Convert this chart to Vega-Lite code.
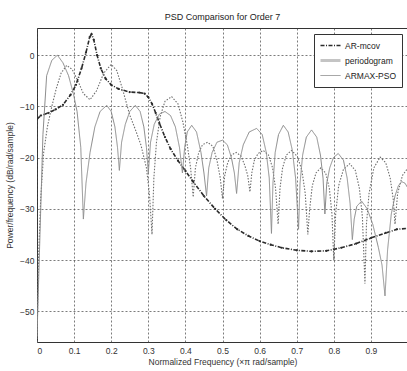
{
  "$schema": "https://vega.github.io/schema/vega-lite/v6.json",
  "width": 371,
  "height": 314,
  "autosize": {"type": "none"},
  "padding": {"left": 37, "top": 28, "right": 0, "bottom": 29},
  "background": "white",
  "title": {"text": "PSD Comparison for Order 7", "fontSize": 9, "fontWeight": "normal", "font": "Liberation Sans Narrow, Liberation Sans, Arial, sans-serif", "color": "#222", "offset": 6},
  "config": {
    "view": {"stroke": "#333", "strokeWidth": 1},
    "axis": {"labelFont": "Liberation Sans Narrow, Liberation Sans, Arial, sans-serif", "labelFontSize": 8.5, "labelColor": "#333", "titleFont": "Liberation Sans Narrow, Liberation Sans, Arial, sans-serif", "titleFontSize": 8.5, "titleFontWeight": "normal", "titleColor": "#333", "grid": true, "gridColor": "#444", "gridDash": [2, 2], "gridWidth": 0.7, "domain": false, "ticks": false},
    "legend": {"orient": "top-right", "offset": 6, "title": null, "fillColor": "white", "strokeColor": "#333", "padding": 5, "labelFont": "Liberation Sans Narrow, Liberation Sans, Arial, sans-serif", "labelFontSize": 8.5, "labelColor": "#222", "symbolType": "stroke", "symbolSize": 400, "clipHeight": 13, "rowPadding": 2, "labelOffset": 3}
  },
  "data": {"values": [
    {"s":"AR-mcov","f":0,"p":-12.5},{"s":"AR-mcov","f":0.01,"p":-11.8},{"s":"AR-mcov","f":0.03,"p":-11.3},{"s":"AR-mcov","f":0.05,"p":-10.6},{"s":"AR-mcov","f":0.07,"p":-9.7},{"s":"AR-mcov","f":0.09,"p":-7.8},{"s":"AR-mcov","f":0.105,"p":-5.8},{"s":"AR-mcov","f":0.12,"p":-2.6},{"s":"AR-mcov","f":0.132,"p":0.5},{"s":"AR-mcov","f":0.142,"p":3.5},{"s":"AR-mcov","f":0.147,"p":4.1},{"s":"AR-mcov","f":0.153,"p":3},{"s":"AR-mcov","f":0.162,"p":0},{"s":"AR-mcov","f":0.172,"p":-2.6},{"s":"AR-mcov","f":0.185,"p":-4.6},{"s":"AR-mcov","f":0.2,"p":-5.8},{"s":"AR-mcov","f":0.22,"p":-6.6},{"s":"AR-mcov","f":0.25,"p":-7.2},{"s":"AR-mcov","f":0.275,"p":-7.3},{"s":"AR-mcov","f":0.29,"p":-7.5},{"s":"AR-mcov","f":0.3,"p":-8.2},{"s":"AR-mcov","f":0.31,"p":-9.5},{"s":"AR-mcov","f":0.32,"p":-11.3},{"s":"AR-mcov","f":0.33,"p":-13.3},{"s":"AR-mcov","f":0.345,"p":-16},{"s":"AR-mcov","f":0.36,"p":-18.3},{"s":"AR-mcov","f":0.38,"p":-20.6},{"s":"AR-mcov","f":0.4,"p":-22.6},{"s":"AR-mcov","f":0.42,"p":-24.6},{"s":"AR-mcov","f":0.45,"p":-27.5},{"s":"AR-mcov","f":0.48,"p":-30},{"s":"AR-mcov","f":0.51,"p":-32.2},{"s":"AR-mcov","f":0.54,"p":-34},{"s":"AR-mcov","f":0.57,"p":-35.3},{"s":"AR-mcov","f":0.6,"p":-36.3},{"s":"AR-mcov","f":0.63,"p":-37},{"s":"AR-mcov","f":0.66,"p":-37.6},{"s":"AR-mcov","f":0.7,"p":-38.1},{"s":"AR-mcov","f":0.74,"p":-38.3},{"s":"AR-mcov","f":0.78,"p":-38.2},{"s":"AR-mcov","f":0.82,"p":-37.6},{"s":"AR-mcov","f":0.86,"p":-36.8},{"s":"AR-mcov","f":0.9,"p":-35.7},{"s":"AR-mcov","f":0.94,"p":-34.7},{"s":"AR-mcov","f":0.97,"p":-34},{"s":"AR-mcov","f":1,"p":-33.8},

    {"s":"ARMAX-PSO","f":0,"p":-55},{"s":"ARMAX-PSO","f":0.008,"p":-35},{"s":"ARMAX-PSO","f":0.016,"p":-15.5},{"s":"ARMAX-PSO","f":0.026,"p":-4},{"s":"ARMAX-PSO","f":0.04,"p":-1},{"s":"ARMAX-PSO","f":0.055,"p":0},{"s":"ARMAX-PSO","f":0.07,"p":-1.5},{"s":"ARMAX-PSO","f":0.085,"p":-4},{"s":"ARMAX-PSO","f":0.098,"p":-7.5},{"s":"ARMAX-PSO","f":0.108,"p":-11},{"s":"ARMAX-PSO","f":0.118,"p":-18},{"s":"ARMAX-PSO","f":0.125,"p":-32},
    {"s":"ARMAX-PSO","f":0.132,"p":-25},{"s":"ARMAX-PSO","f":0.143,"p":-19},{"s":"ARMAX-PSO","f":0.156,"p":-14},{"s":"ARMAX-PSO","f":0.17,"p":-11},{"s":"ARMAX-PSO","f":0.188,"p":-9.8},{"s":"ARMAX-PSO","f":0.2,"p":-11},{"s":"ARMAX-PSO","f":0.21,"p":-14},{"s":"ARMAX-PSO","f":0.217,"p":-18},{"s":"ARMAX-PSO","f":0.222,"p":-22.5},
    {"s":"ARMAX-PSO","f":0.228,"p":-17},{"s":"ARMAX-PSO","f":0.238,"p":-13.5},{"s":"ARMAX-PSO","f":0.25,"p":-11},{"s":"ARMAX-PSO","f":0.265,"p":-9.8},{"s":"ARMAX-PSO","f":0.278,"p":-11},{"s":"ARMAX-PSO","f":0.288,"p":-14},{"s":"ARMAX-PSO","f":0.295,"p":-18},{"s":"ARMAX-PSO","f":0.3,"p":-23},
    {"s":"ARMAX-PSO","f":0.306,"p":-17},{"s":"ARMAX-PSO","f":0.316,"p":-13.5},{"s":"ARMAX-PSO","f":0.33,"p":-11.5},{"s":"ARMAX-PSO","f":0.345,"p":-11},{"s":"ARMAX-PSO","f":0.36,"p":-11.8},{"s":"ARMAX-PSO","f":0.373,"p":-14},{"s":"ARMAX-PSO","f":0.384,"p":-18},{"s":"ARMAX-PSO","f":0.392,"p":-23},
    {"s":"ARMAX-PSO","f":0.398,"p":-18},{"s":"ARMAX-PSO","f":0.405,"p":-15},{"s":"ARMAX-PSO","f":0.417,"p":-13.7},{"s":"ARMAX-PSO","f":0.43,"p":-15},{"s":"ARMAX-PSO","f":0.442,"p":-19},{"s":"ARMAX-PSO","f":0.45,"p":-23},{"s":"ARMAX-PSO","f":0.457,"p":-27.5},
    {"s":"ARMAX-PSO","f":0.463,"p":-22},{"s":"ARMAX-PSO","f":0.472,"p":-19},{"s":"ARMAX-PSO","f":0.485,"p":-17},{"s":"ARMAX-PSO","f":0.5,"p":-16.6},{"s":"ARMAX-PSO","f":0.513,"p":-17.5},{"s":"ARMAX-PSO","f":0.524,"p":-20},{"s":"ARMAX-PSO","f":0.532,"p":-23},{"s":"ARMAX-PSO","f":0.538,"p":-27},
    {"s":"ARMAX-PSO","f":0.545,"p":-21},{"s":"ARMAX-PSO","f":0.556,"p":-17.5},{"s":"ARMAX-PSO","f":0.572,"p":-15},{"s":"ARMAX-PSO","f":0.592,"p":-14.3},{"s":"ARMAX-PSO","f":0.607,"p":-15.5},{"s":"ARMAX-PSO","f":0.618,"p":-19},{"s":"ARMAX-PSO","f":0.626,"p":-24},{"s":"ARMAX-PSO","f":0.632,"p":-34.8},
    {"s":"ARMAX-PSO","f":0.636,"p":-25},{"s":"ARMAX-PSO","f":0.642,"p":-19},{"s":"ARMAX-PSO","f":0.651,"p":-15.5},{"s":"ARMAX-PSO","f":0.664,"p":-13.7},{"s":"ARMAX-PSO","f":0.677,"p":-15},{"s":"ARMAX-PSO","f":0.688,"p":-18.5},{"s":"ARMAX-PSO","f":0.697,"p":-24},{"s":"ARMAX-PSO","f":0.705,"p":-34},
    {"s":"ARMAX-PSO","f":0.709,"p":-25},{"s":"ARMAX-PSO","f":0.716,"p":-19.5},{"s":"ARMAX-PSO","f":0.726,"p":-16},{"s":"ARMAX-PSO","f":0.74,"p":-14.6},{"s":"ARMAX-PSO","f":0.754,"p":-16},{"s":"ARMAX-PSO","f":0.764,"p":-19.5},{"s":"ARMAX-PSO","f":0.771,"p":-24},{"s":"ARMAX-PSO","f":0.776,"p":-31},
    {"s":"ARMAX-PSO","f":0.781,"p":-25},{"s":"ARMAX-PSO","f":0.789,"p":-22},{"s":"ARMAX-PSO","f":0.799,"p":-20},{"s":"ARMAX-PSO","f":0.812,"p":-19.2},{"s":"ARMAX-PSO","f":0.826,"p":-20.5},{"s":"ARMAX-PSO","f":0.836,"p":-24},{"s":"ARMAX-PSO","f":0.844,"p":-29},{"s":"ARMAX-PSO","f":0.85,"p":-36},
    {"s":"ARMAX-PSO","f":0.855,"p":-32},{"s":"ARMAX-PSO","f":0.862,"p":-29.5},{"s":"ARMAX-PSO","f":0.875,"p":-28.5},{"s":"ARMAX-PSO","f":0.89,"p":-30},{"s":"ARMAX-PSO","f":0.905,"p":-33},{"s":"ARMAX-PSO","f":0.92,"p":-37.5},{"s":"ARMAX-PSO","f":0.93,"p":-41},{"s":"ARMAX-PSO","f":0.938,"p":-47},
    {"s":"ARMAX-PSO","f":0.945,"p":-38},{"s":"ARMAX-PSO","f":0.955,"p":-31},{"s":"ARMAX-PSO","f":0.965,"p":-27.5},{"s":"ARMAX-PSO","f":0.974,"p":-25.5},{"s":"ARMAX-PSO","f":0.983,"p":-24.7},{"s":"ARMAX-PSO","f":0.992,"p":-25},{"s":"ARMAX-PSO","f":1,"p":-26},

    {"s":"periodogram","f":0,"p":-56},{"s":"periodogram","f":0.004,"p":-40},{"s":"periodogram","f":0.01,"p":-28},{"s":"periodogram","f":0.018,"p":-19},{"s":"periodogram","f":0.028,"p":-14},{"s":"periodogram","f":0.04,"p":-10},{"s":"periodogram","f":0.052,"p":-6.5},{"s":"periodogram","f":0.065,"p":-3.5},{"s":"periodogram","f":0.08,"p":-2},{"s":"periodogram","f":0.095,"p":-2.8},{"s":"periodogram","f":0.11,"p":-5},{"s":"periodogram","f":0.125,"p":-7.5},{"s":"periodogram","f":0.143,"p":-8.7},{"s":"periodogram","f":0.16,"p":-7},{"s":"periodogram","f":0.18,"p":-3.5},{"s":"periodogram","f":0.2,"p":-1.8},{"s":"periodogram","f":0.215,"p":-3},{"s":"periodogram","f":0.23,"p":-6.5},{"s":"periodogram","f":0.25,"p":-11.7},{"s":"periodogram","f":0.265,"p":-14.5},{"s":"periodogram","f":0.28,"p":-17.5},{"s":"periodogram","f":0.295,"p":-22},{"s":"periodogram","f":0.303,"p":-27},{"s":"periodogram","f":0.31,"p":-35},
    {"s":"periodogram","f":0.315,"p":-24},{"s":"periodogram","f":0.322,"p":-17},{"s":"periodogram","f":0.332,"p":-12},{"s":"periodogram","f":0.345,"p":-9},{"s":"periodogram","f":0.363,"p":-8.1},{"s":"periodogram","f":0.38,"p":-9.5},{"s":"periodogram","f":0.393,"p":-13},{"s":"periodogram","f":0.405,"p":-17.5},{"s":"periodogram","f":0.414,"p":-22},{"s":"periodogram","f":0.421,"p":-27.7},
    {"s":"periodogram","f":0.427,"p":-22},{"s":"periodogram","f":0.436,"p":-19},{"s":"periodogram","f":0.446,"p":-17.5},{"s":"periodogram","f":0.46,"p":-17},{"s":"periodogram","f":0.474,"p":-17.8},{"s":"periodogram","f":0.485,"p":-20.5},{"s":"periodogram","f":0.494,"p":-24},{"s":"periodogram","f":0.5,"p":-28},
    {"s":"periodogram","f":0.506,"p":-23.5},{"s":"periodogram","f":0.514,"p":-21},{"s":"periodogram","f":0.524,"p":-19.5},{"s":"periodogram","f":0.537,"p":-19},{"s":"periodogram","f":0.55,"p":-19.7},{"s":"periodogram","f":0.56,"p":-21.5},{"s":"periodogram","f":0.568,"p":-23.5},{"s":"periodogram","f":0.574,"p":-26.7},
    {"s":"periodogram","f":0.579,"p":-23},{"s":"periodogram","f":0.586,"p":-20.5},{"s":"periodogram","f":0.596,"p":-19.2},{"s":"periodogram","f":0.61,"p":-18.6},{"s":"periodogram","f":0.624,"p":-19.5},{"s":"periodogram","f":0.635,"p":-22},{"s":"periodogram","f":0.643,"p":-26},{"s":"periodogram","f":0.65,"p":-33},
    {"s":"periodogram","f":0.655,"p":-26},{"s":"periodogram","f":0.662,"p":-22},{"s":"periodogram","f":0.672,"p":-19.5},{"s":"periodogram","f":0.686,"p":-18.6},{"s":"periodogram","f":0.702,"p":-19.8},{"s":"periodogram","f":0.714,"p":-22.5},{"s":"periodogram","f":0.723,"p":-27},{"s":"periodogram","f":0.73,"p":-35},
    {"s":"periodogram","f":0.735,"p":-30},{"s":"periodogram","f":0.742,"p":-25.5},{"s":"periodogram","f":0.752,"p":-23},{"s":"periodogram","f":0.765,"p":-22},{"s":"periodogram","f":0.778,"p":-23},{"s":"periodogram","f":0.788,"p":-26},{"s":"periodogram","f":0.795,"p":-31},{"s":"periodogram","f":0.8,"p":-40},
    {"s":"periodogram","f":0.805,"p":-31},{"s":"periodogram","f":0.813,"p":-25.5},{"s":"periodogram","f":0.826,"p":-22.3},{"s":"periodogram","f":0.843,"p":-21.2},{"s":"periodogram","f":0.858,"p":-22.5},{"s":"periodogram","f":0.869,"p":-26},{"s":"periodogram","f":0.877,"p":-31.5},{"s":"periodogram","f":0.884,"p":-44.6},
    {"s":"periodogram","f":0.888,"p":-33},{"s":"periodogram","f":0.895,"p":-27},{"s":"periodogram","f":0.908,"p":-22},{"s":"periodogram","f":0.925,"p":-19.9},{"s":"periodogram","f":0.94,"p":-21},{"s":"periodogram","f":0.952,"p":-24},{"s":"periodogram","f":0.96,"p":-28},{"s":"periodogram","f":0.965,"p":-33},
    {"s":"periodogram","f":0.972,"p":-27},{"s":"periodogram","f":0.985,"p":-23.5},{"s":"periodogram","f":1,"p":-22}
  ]},
  "encoding": {
    "x": {"field": "f", "type": "quantitative", "scale": {"domain": [0, 1], "nice": false, "zero": false}, "axis": {"values": [0, 0.1, 0.2, 0.3, 0.4, 0.5, 0.6, 0.7, 0.8, 0.9], "format": "~g", "title": "Normalized Frequency  (×π rad/sample)", "labelPadding": 4, "titlePadding": 3}},
    "y": {"field": "p", "type": "quantitative", "scale": {"domain": [-56, 5.3], "nice": false, "zero": false}, "axis": {"values": [-50, -40, -30, -20, -10, 0], "title": "Power/frequency (dB/rad/sample)", "labelPadding": 3, "titlePadding": 5}}
  },
  "layer": [
    {
      "transform": [{"filter": {"field": "s", "equal": "periodogram"}}],
      "mark": {"type": "line", "clip": true, "color": "#6e6e6e", "strokeDash": [1.5, 1.5], "strokeWidth": 1.1}
    },
    {
      "transform": [{"filter": {"field": "s", "oneOf": ["ARMAX-PSO", "AR-mcov"]}}],
      "mark": {"type": "line", "clip": true},
      "encoding": {
        "color": {"field": "s", "type": "nominal", "scale": {"domain": ["AR-mcov", "periodogram", "ARMAX-PSO"], "range": ["#2b2b2b", "#c4c4c4", "#8a8a8a"]}},
        "strokeDash": {"field": "s", "type": "nominal", "scale": {"domain": ["AR-mcov", "periodogram", "ARMAX-PSO"], "range": [[4, 1.5, 1, 1.5], [1, 0], [1, 0]]}},
        "strokeWidth": {"field": "s", "type": "nominal", "scale": {"type": "ordinal", "domain": ["AR-mcov", "periodogram", "ARMAX-PSO"], "range": [1.6, 3, 1]}}
      }
    },
    {
      "transform": [{"filter": {"field": "s", "equal": "AR-mcov"}}],
      "mark": {"type": "point", "clip": true, "filled": true, "size": 5, "color": "#2b2b2b", "opacity": 1}
    }
  ]
}
